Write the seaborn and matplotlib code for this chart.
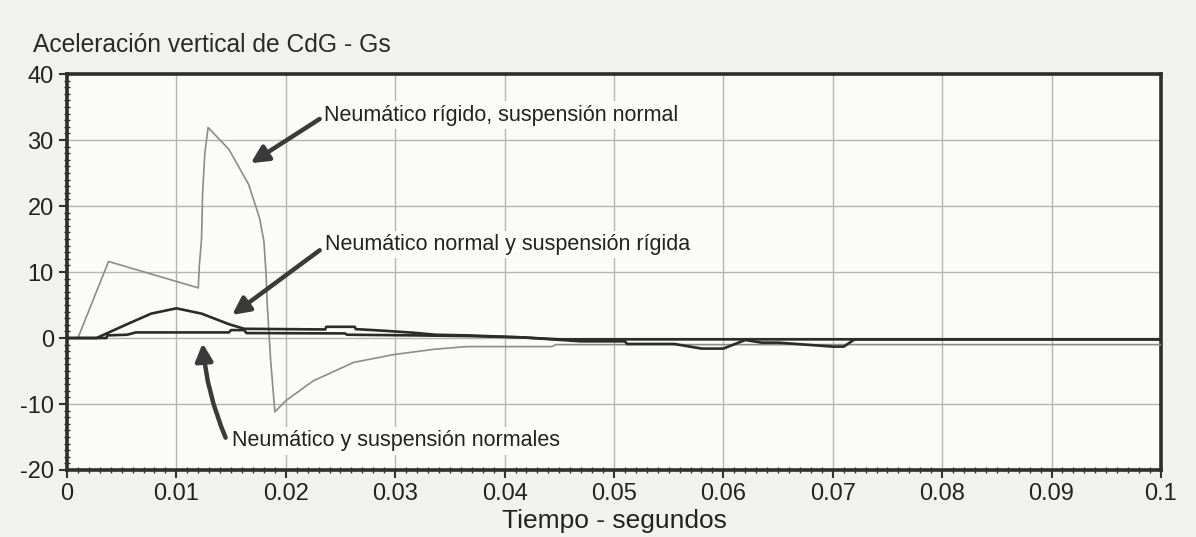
import numpy as np
import pandas as pd
import matplotlib
matplotlib.use('Agg')
import matplotlib.pyplot as plt
from matplotlib.ticker import MultipleLocator
import seaborn as sns

# Neumático rígido, suspensión normal
t_rigido = [0, 0.0010, 0.0038, 0.0120, 0.0121, 0.0123, 0.0124, 0.0126, 0.0129,
            0.0148, 0.0166, 0.0176, 0.0180, 0.0182, 0.0183, 0.0186, 0.0190,
            0.0200, 0.0225, 0.0262, 0.0299, 0.0336, 0.0365, 0.0443, 0.0447, 0.1000]
v_rigido = [0, 0, 11.6, 7.6, 11.0, 15.0, 22.0, 28.0, 31.9,
            28.6, 23.3, 18.2, 14.7, 9.7, 5.3, -3.0, -11.2,
            -9.5, -6.5, -3.7, -2.5, -1.7, -1.3, -1.3, -1.0, -1.0]

# Neumático normal y suspensión rígida
t_susp = [0, 0.0027, 0.0055, 0.0077, 0.0100, 0.0123, 0.0148, 0.0162, 0.0236,
          0.0237, 0.0263, 0.0264, 0.0290, 0.0317, 0.0337, 0.0366, 0.0416, 0.0450, 0.1000]
v_susp = [0, 0, 2.1, 3.7, 4.5, 3.7, 2.1, 1.4, 1.3,
          1.7, 1.7, 1.35, 1.1, 0.8, 0.5, 0.4, 0.1, -0.2, -0.2]

# Neumático y suspensión normales
t_norm = [0, 0.0036, 0.0037, 0.0055, 0.0063, 0.0148, 0.0150, 0.0162, 0.0164,
          0.0254, 0.0256, 0.0317, 0.0366, 0.0416, 0.0470, 0.0510, 0.0512, 0.0555,
          0.0580, 0.0600, 0.0620, 0.0635, 0.0650, 0.0700, 0.0710, 0.0720, 0.1000]
v_norm = [0, 0, 0.4, 0.5, 0.85, 0.85, 1.2, 1.2, 0.75,
          0.7, 0.5, 0.4, 0.3, 0.1, -0.5, -0.5, -0.9, -0.9,
          -1.6, -1.6, -0.3, -0.7, -0.7, -1.3, -1.3, -0.2, -0.2]

x_ticks = [0, 0.01, 0.02, 0.03, 0.04, 0.05, 0.06, 0.07, 0.08, 0.09, 0.1]
x_ticklabels = ['0', '0.01', '0.02', '0.03', '0.04', '0.05', '0.06',
                '0.07', '0.08', '0.09', '0.1']
y_ticks = [-20, -10, 0, 10, 20, 30, 40]

labels = ['Neumático rígido, suspensión normal',
          'Neumático normal y suspensión rígida',
          'Neumático y suspensión normales']

df = pd.concat([
    pd.DataFrame({'t': t_rigido, 'g': v_rigido, 'serie': labels[0]}),
    pd.DataFrame({'t': t_susp, 'g': v_susp, 'serie': labels[1]}),
    pd.DataFrame({'t': t_norm, 'g': v_norm, 'serie': labels[2]}),
])

sns.set_theme(style='white')
plt.rcParams['font.family'] = ['Liberation Sans', 'DejaVu Sans']
plt.rcParams['axes.unicode_minus'] = False

fig = plt.figure(figsize=(11.96, 5.37), dpi=100, facecolor='#f1f1ef')
ax = fig.add_axes([0.056, 0.1248, 0.9147, 0.7372])
ax.set_facecolor('#fbfbfa')

sns.lineplot(data=df, x='t', y='g', hue='serie', size='serie',
             palette={labels[0]: '#8c8c8c', labels[1]: '#2b2b2b', labels[2]: '#2b2b2b'},
             sizes={labels[0]: 1.2, labels[1]: 1.9, labels[2]: 1.9},
             estimator=None, sort=False, legend=False, ax=ax, zorder=3)

ax.set_xlim(0, 0.1)
ax.set_ylim(-20, 40)
ax.set_xticks(x_ticks)
ax.set_xticklabels(x_ticklabels)
ax.set_yticks(y_ticks)
ax.set_yticklabels([str(v) for v in y_ticks])
ax.xaxis.set_minor_locator(MultipleLocator(0.001))
ax.yaxis.set_minor_locator(MultipleLocator(1))
ax.grid(True, which='major', color='#b4b4b4', linewidth=1.0, zorder=0)
ax.tick_params(which='major', direction='out', length=6, width=1.5, color='#333333',
               labelsize=17, labelcolor='#222222', bottom=True, left=True)
ax.tick_params(which='minor', direction='inout', length=4, width=1, color='#333333',
               bottom=True, left=True)
for sp in ax.spines.values():
    sp.set_color('#2e2e2e')
    sp.set_linewidth(2.6)

ax.set_xlabel('Tiempo - segundos', fontsize=19, color='#222222', va='center')
ax.xaxis.set_label_coords(0.5, -0.129)
ax.set_ylabel('')
fig.text(33 / 1196, 1 - 45 / 537, 'Aceleración vertical de CdG - Gs',
         fontsize=17.7, color='#2a2a2a', va='center', ha='left')

box = dict(boxstyle='square,pad=0.15', facecolor='#fbfbfa', edgecolor='none')
arrow = dict(arrowstyle='-|>', color='#3a3a3a', lw=3.2, mutation_scale=26,
             shrinkA=0, shrinkB=0)

ax.text(0.0235, 33.8, labels[0], fontsize=15.5, color='#222222', va='center',
        bbox=box, zorder=4)
ax.text(0.0236, 14.2, labels[1], fontsize=15.5, color='#222222', va='center',
        bbox=box, zorder=4)
ax.text(0.0151, -15.6, labels[2], fontsize=15.5, color='#222222', va='center',
        bbox=box, zorder=4)

ax.annotate('', xy=(0.0168, 26.5), xytext=(0.0231, 33.2), arrowprops=arrow, zorder=5)
ax.annotate('', xy=(0.0151, 3.5), xytext=(0.0231, 13.3), arrowprops=arrow, zorder=5)
ax.annotate('', xy=(0.0124, -0.8), xytext=(0.0145, -15.1),
            arrowprops=dict(arrow, connectionstyle='arc3,rad=-0.08'), zorder=5)

fig.savefig('out.png', dpi=100, facecolor=fig.get_facecolor())
